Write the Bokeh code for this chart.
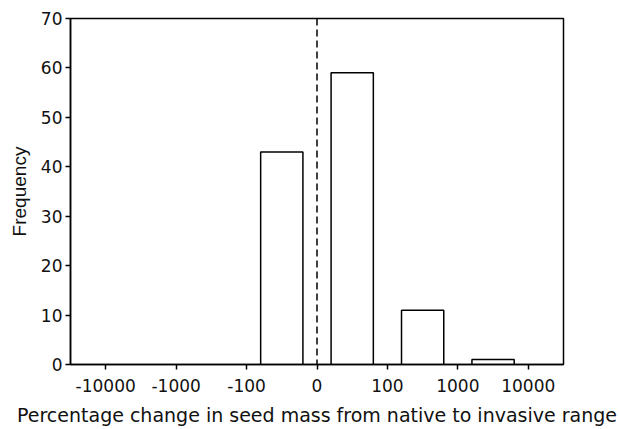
from bokeh.plotting import figure
from bokeh.models import ColumnDataSource, FixedTicker, Span, Range1d
from bokeh.embed import file_html
from bokeh.resources import INLINE

tick_labels = ["-10000", "-1000", "-100", "0", "100", "1000", "10000"]
bin_lower = ["-100", "0", "100", "1000"]
counts = [43, 59, 11, 1]

tick_pos = [i - 3 for i in range(len(tick_labels))]
centers = [tick_labels.index(b) - 3 + 0.5 for b in bin_lower]

src = ColumnDataSource(dict(x=centers, top=counts))

WIDE = "DejaVu Sans"
p = figure(width=619, height=429, output_backend="svg", toolbar_location=None,
           x_range=Range1d(-3.5, 3.5), y_range=Range1d(0, 70),
           min_border_left=70, min_border_right=56, min_border_top=18, min_border_bottom=65)

p.vbar(x="x", top="top", bottom=0, width=0.6, source=src,
       fill_color="white", line_color="black", line_width=1.5)

p.add_layout(Span(location=0, dimension="height", line_color="black",
                  line_dash="7 4", line_width=1.5))

p.xgrid.visible = False
p.ygrid.visible = False
p.outline_line_color = "black"
p.outline_line_width = 1.5
p.outline_line_alpha = 1

p.xaxis.ticker = FixedTicker(ticks=tick_pos)
p.xaxis.major_label_overrides = {t: l for t, l in zip(tick_pos, tick_labels)}
p.yaxis.ticker = FixedTicker(ticks=list(range(0, 71, 10)))

for ax in (p.xaxis, p.yaxis):
    ax.axis_line_color = "black"
    ax.axis_line_width = 1.5
    ax.major_tick_line_color = "black"
    ax.major_tick_line_width = 1.5
    ax.major_tick_in = 0
    ax.major_tick_out = 5
    ax.minor_tick_line_color = None
    ax.major_label_text_font = WIDE
    ax.major_label_text_font_size = "17px"
    ax.major_label_text_color = "#111111"
    ax.axis_label_text_font_style = "normal"
    ax.axis_label_text_color = "#111111"

p.xaxis.axis_label = "Percentage change in seed mass from native to invasive range"
p.xaxis.axis_label_text_font = WIDE
p.xaxis.axis_label_text_font_size = "19px"
p.xaxis.major_label_standoff = 9
p.xaxis.axis_label_standoff = 9
p.yaxis.axis_label = "Frequency"
p.yaxis.axis_label_text_font = "Liberation Sans"
p.yaxis.axis_label_text_font_size = "19px"
p.yaxis.major_label_standoff = 3
p.yaxis.axis_label_standoff = 8

open("out.html", "w").write(file_html(p, INLINE))
